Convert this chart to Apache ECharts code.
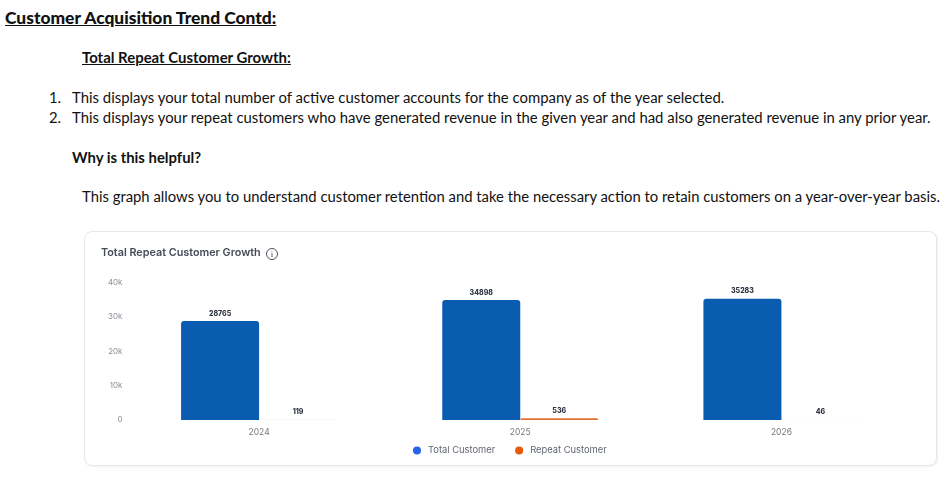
<!DOCTYPE html>
<html>
<head>
<meta charset="utf-8">
<script src="https://cdn.jsdelivr.net/npm/echarts@6/dist/echarts.min.js"></script>
<style>
html,body{margin:0;padding:0;background:#fff;width:948px;height:484px;overflow:hidden;}
.t{position:absolute;white-space:nowrap;font-family:Lato,"Open Sans",sans-serif;color:#111;line-height:1;}
.card{position:absolute;left:84px;top:231px;width:851px;height:233px;border:1px solid #e6e7ea;border-radius:8px;box-shadow:1px 1px 2px rgba(0,0,0,.06);background:#fff;}
#chart{position:absolute;left:0;top:0;width:948px;height:484px;}
</style>
</head>
<body>
<div class="t" style="left:5px;top:9px;font-size:17.4px;font-weight:900;text-decoration:underline;">Customer Acquisition Trend Contd:</div>
<div class="t" style="left:82px;top:50px;font-size:14.95px;font-weight:700;text-decoration:underline;">Total Repeat Customer Growth:</div>
<div class="t" style="left:49px;top:90px;font-size:14.87px;">1.</div>
<div class="t" style="left:72px;top:90px;font-size:14.9px;">This displays your total number of active customer accounts for the company as of the year selected.</div>
<div class="t" style="left:49px;top:110px;font-size:14.87px;">2.</div>
<div class="t" style="left:72px;top:110px;font-size:14.9px;">This displays your repeat customers who have generated revenue in the given year and had also generated revenue in any prior year.</div>
<div class="t" style="left:72px;top:150px;font-size:14.87px;font-weight:700;">Why is this helpful?</div>
<div class="t" style="left:82px;top:189px;font-size:14.83px;">This graph allows you to understand customer retention and take the necessary action to retain customers on a year-over-year basis.</div>
<div class="card"></div>
<div id="chart"></div>
<script>
const categories = ['2024', '2025', '2026'];
const totalCustomer = [28765, 34898, 35283];
const repeatCustomer = [119, 536, 46];
const yTicks = { min: 0, max: 40000, interval: 10000 };

const chart = echarts.init(document.getElementById('chart'), null, { renderer: 'canvas' });
const font = 'Inter, "Noto Sans", sans-serif';
const labelStyle = { show: true, position: 'top', distance: 4, fontFamily: font, fontSize: 7, fontWeight: 800, color: '#2f3542' };
chart.setOption({
  backgroundColor: 'transparent',
  animation: false,
  title: {
    text: 'Total Repeat Customer Growth', left: 96, top: 242,
    textStyle: { fontFamily: font, fontSize: 10.8, fontWeight: 600, color: '#454b57' }
  },
  legend: {
    top: 441, left: 408, itemWidth: 8, itemHeight: 8, itemGap: 20, icon: 'circle',
    textStyle: { fontFamily: font, fontSize: 9.35, color: '#5f6570', padding: [0, 0, 0, 2] },
    data: [
      { name: 'Total Customer', itemStyle: { color: '#2563eb' } },
      { name: 'Repeat Customer', itemStyle: { color: '#ea580c' } }
    ]
  },
  grid: { left: 128.5, right: 36, top: 282.5, height: 137.5, containLabel: false },
  xAxis: {
    type: 'category', data: categories,
    axisLine: { show: false }, axisTick: { show: false },
    axisLabel: { fontFamily: font, fontSize: 8.5, color: '#74797f', margin: 8 }
  },
  yAxis: {
    type: 'value', min: yTicks.min, max: yTicks.max, interval: yTicks.interval,
    axisLine: { show: false }, axisTick: { show: false }, splitLine: { show: false },
    axisLabel: {
      fontFamily: font, fontSize: 8, color: '#8b9098', margin: 6,
      formatter: v => v === 0 ? '0' : (v / 1000) + 'k'
    }
  },
  series: [
    { name: 'Total Customer', type: 'bar', data: totalCustomer, barWidth: 78, barGap: 0,
      itemStyle: { color: '#0a5cb0', borderRadius: [3, 3, 0, 0] }, label: labelStyle },
    { name: 'Repeat Customer', type: 'bar',
      data: repeatCustomer.map(v => v < 200 ? { value: v, itemStyle: { color: 'rgba(229,112,47,0.1)' } } : v),
      barWidth: 78,
      itemStyle: { color: '#e5702f', borderRadius: [3, 3, 0, 0] }, label: labelStyle }
  ],
  graphic: [
    { type: 'circle', shape: { cx: 272, cy: 254, r: 5.5 }, style: { fill: 'none', stroke: '#3d424c', lineWidth: 0.9 } },
    { type: 'text', x: 272, y: 254.2, style: { text: 'i', fontFamily: 'serif', fontSize: 9, fill: '#3d424c', align: 'center', verticalAlign: 'middle' } }
  ]
});
</script>
</body>
</html>
